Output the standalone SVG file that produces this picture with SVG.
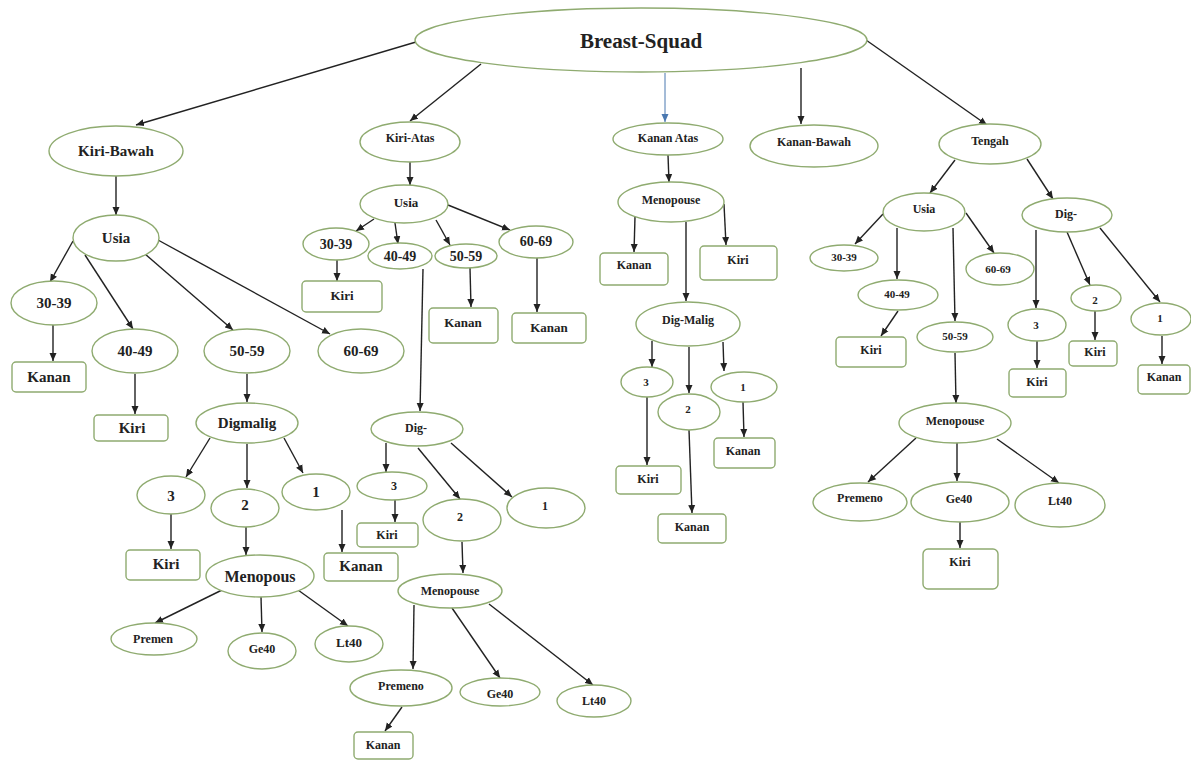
<svg xmlns="http://www.w3.org/2000/svg" width="1191" height="760" viewBox="0 0 1191 760">
<style>
.s{fill:#fff;stroke:#8fab70;stroke-width:1.4}
.t{font-family:'Liberation Serif','Times New Roman','DejaVu Serif',serif;font-weight:bold;fill:#222;text-anchor:middle;dominant-baseline:central}
.c line{stroke:#222;stroke-width:1.4;marker-end:url(#ah)}
</style>
<defs>
<marker id="ah" markerUnits="userSpaceOnUse" markerWidth="8" markerHeight="8" viewBox="0 0 8 8" refX="8" refY="4" orient="auto">
<path d="M0,0.5 L8,4 L0,7.5 Z" fill="#222"/>
</marker>
<marker id="ahb" markerUnits="userSpaceOnUse" markerWidth="8" markerHeight="8" viewBox="0 0 8 8" refX="8" refY="4" orient="auto">
<path d="M0,0.5 L8,4 L0,7.5 Z" fill="#4a78b0"/>
</marker>
</defs>
<rect width="1191" height="760" fill="#fff"/>

<g class="c" id="connectors">
<line x1="416" y1="42" x2="136" y2="125"/>
<line x1="481" y1="64" x2="410" y2="121"/>
<line x1="665" y1="73" x2="665" y2="122" style="stroke:#4a78b0;stroke-width:1;marker-end:url(#ahb)"/>
<line x1="801" y1="68" x2="801" y2="124"/>
<line x1="866" y1="40" x2="987" y2="125"/>
<line x1="116" y1="176" x2="116" y2="215"/>
<line x1="73" y1="241" x2="50" y2="282"/>
<line x1="85" y1="255" x2="133" y2="329"/>
<line x1="145" y1="254" x2="233" y2="330"/>
<line x1="158" y1="240" x2="330" y2="334"/>
<line x1="53" y1="325" x2="53" y2="361"/>
<line x1="135" y1="374" x2="135" y2="414"/>
<line x1="247" y1="374" x2="247" y2="402"/>
<line x1="210" y1="438" x2="186" y2="477"/>
<line x1="247" y1="444" x2="247" y2="488"/>
<line x1="284" y1="438" x2="303" y2="473"/>
<line x1="171" y1="514" x2="171" y2="549"/>
<line x1="246" y1="527" x2="246" y2="555"/>
<line x1="342" y1="510" x2="342" y2="552"/>
<line x1="222" y1="590" x2="155" y2="623"/>
<line x1="261" y1="597" x2="262" y2="632"/>
<line x1="298" y1="590" x2="348" y2="626"/>
<line x1="410" y1="162" x2="410" y2="185"/>
<line x1="374" y1="219" x2="356" y2="231"/>
<line x1="395" y1="223" x2="398" y2="244"/>
<line x1="436" y1="220" x2="450" y2="245"/>
<line x1="448" y1="205" x2="510" y2="230"/>
<line x1="337" y1="260" x2="337" y2="281"/>
<line x1="423" y1="269" x2="420" y2="411"/>
<line x1="470" y1="268" x2="471" y2="307"/>
<line x1="537" y1="258" x2="537" y2="312"/>
<line x1="386" y1="443" x2="386" y2="472"/>
<line x1="418" y1="448" x2="460" y2="499"/>
<line x1="451" y1="443" x2="512" y2="497"/>
<line x1="395" y1="500" x2="395" y2="522"/>
<line x1="462" y1="542" x2="463" y2="573"/>
<line x1="414" y1="605" x2="413" y2="669"/>
<line x1="452" y1="608" x2="500" y2="678"/>
<line x1="489" y1="604" x2="593" y2="685"/>
<line x1="402" y1="707" x2="385" y2="731"/>
<line x1="668" y1="155" x2="669" y2="182"/>
<line x1="635" y1="217" x2="634" y2="252"/>
<line x1="724" y1="204" x2="726" y2="245"/>
<line x1="686" y1="222" x2="686" y2="301"/>
<line x1="652" y1="341" x2="652" y2="367"/>
<line x1="689" y1="347" x2="689" y2="393"/>
<line x1="723" y1="342" x2="724" y2="371"/>
<line x1="647" y1="397" x2="647" y2="465"/>
<line x1="743" y1="402" x2="744" y2="437"/>
<line x1="689" y1="430" x2="692" y2="513"/>
<line x1="955" y1="160" x2="930" y2="193"/>
<line x1="1027" y1="159" x2="1053" y2="199"/>
<line x1="883" y1="214" x2="855" y2="244"/>
<line x1="897" y1="228" x2="897" y2="279"/>
<line x1="953" y1="228" x2="955" y2="321"/>
<line x1="966" y1="213" x2="994" y2="253"/>
<line x1="898" y1="311" x2="881" y2="336"/>
<line x1="955" y1="353" x2="956" y2="403"/>
<line x1="916" y1="438" x2="868" y2="482"/>
<line x1="957" y1="443" x2="957" y2="481"/>
<line x1="997" y1="439" x2="1059" y2="483"/>
<line x1="960" y1="522" x2="960" y2="548"/>
<line x1="1036" y1="230" x2="1036" y2="308"/>
<line x1="1067" y1="232" x2="1090" y2="285"/>
<line x1="1100" y1="228" x2="1160" y2="302"/>
<line x1="1037" y1="341" x2="1037" y2="368"/>
<line x1="1095" y1="311" x2="1095" y2="340"/>
<line x1="1162" y1="336" x2="1162" y2="364"/>
</g>

<g id="root"><ellipse class="s" cx="641" cy="40" rx="226" ry="32"/><text class="t" x="641" y="41" font-size="21">Breast-Squad</text></g>

<g id="kiri-bawah"><ellipse class="s" cx="116" cy="151" rx="67" ry="25"/><text class="t" x="116" y="151" font-size="15">Kiri-Bawah</text></g>
<g id="kb-usia"><ellipse class="s" cx="116" cy="238" rx="43" ry="23"/><text class="t" x="116" y="238" font-size="15">Usia</text></g>
<g id="kb-3039"><ellipse class="s" cx="54" cy="303" rx="43" ry="22"/><text class="t" x="54" y="303" font-size="15">30-39</text></g>
<g id="kb-4049"><ellipse class="s" cx="135" cy="351" rx="43" ry="22"/><text class="t" x="135" y="351" font-size="15">40-49</text></g>
<g id="kb-5059"><ellipse class="s" cx="247" cy="351" rx="43" ry="22"/><text class="t" x="247" y="351" font-size="15">50-59</text></g>
<g id="kb-6069"><ellipse class="s" cx="361" cy="351" rx="43" ry="22"/><text class="t" x="361" y="351" font-size="15">60-69</text></g>
<g id="kb-kanan1"><rect class="s" x="12" y="362" width="74" height="30" rx="4"/><text class="t" x="49" y="377" font-size="15">Kanan</text></g>
<g id="kb-kiri1"><rect class="s" x="94" y="415" width="74" height="26" rx="4"/><text class="t" x="132" y="428" font-size="15">Kiri</text></g>
<g id="kb-digmalig"><ellipse class="s" cx="247" cy="423" rx="51" ry="20"/><text class="t" x="247" y="423" font-size="15">Digmalig</text></g>
<g id="kb-d3"><ellipse class="s" cx="171" cy="495" rx="34" ry="19"/><text class="t" x="171" y="496" font-size="15">3</text></g>
<g id="kb-d2"><ellipse class="s" cx="245" cy="508" rx="34" ry="19"/><text class="t" x="245" y="505" font-size="15">2</text></g>
<g id="kb-d1"><ellipse class="s" cx="316" cy="492" rx="34" ry="18"/><text class="t" x="316" y="492" font-size="15">1</text></g>
<g id="kb-kiri2"><rect class="s" x="126" y="550" width="74" height="30" rx="4"/><text class="t" x="166" y="564" font-size="15">Kiri</text></g>
<g id="kb-menopous"><ellipse class="s" cx="260" cy="576" rx="54" ry="21"/><text class="t" x="260" y="576" font-size="16">Menopous</text></g>
<g id="kb-kanan2"><rect class="s" x="324" y="553" width="74" height="28" rx="4"/><text class="t" x="361" y="566" font-size="15">Kanan</text></g>
<g id="kb-premen"><ellipse class="s" cx="154" cy="639" rx="43" ry="16"/><text class="t" x="153" y="639" font-size="12">Premen</text></g>
<g id="kb-ge40"><ellipse class="s" cx="262" cy="651" rx="34" ry="18"/><text class="t" x="262" y="649" font-size="12">Ge40</text></g>
<g id="kb-lt40"><ellipse class="s" cx="349" cy="644" rx="34" ry="18"/><text class="t" x="349" y="642" font-size="13">Lt40</text></g>

<g id="kiri-atas"><ellipse class="s" cx="410" cy="142" rx="50" ry="20"/><text class="t" x="410" y="138" font-size="12">Kiri-Atas</text></g>
<g id="ka-usia"><ellipse class="s" cx="404" cy="204" rx="44" ry="19"/><text class="t" x="406" y="202" font-size="13">Usia</text></g>
<g id="ka-3039"><ellipse class="s" cx="336" cy="244" rx="33" ry="16"/><text class="t" x="336" y="244" font-size="14">30-39</text></g>
<g id="ka-4049"><ellipse class="s" cx="400" cy="256" rx="32" ry="13"/><text class="t" x="400" y="256" font-size="14">40-49</text></g>
<g id="ka-5059"><ellipse class="s" cx="466" cy="256" rx="31" ry="12"/><text class="t" x="466" y="256" font-size="14">50-59</text></g>
<g id="ka-6069"><ellipse class="s" cx="536" cy="242" rx="37" ry="16"/><text class="t" x="536" y="241" font-size="14">60-69</text></g>
<g id="ka-kiri"><rect class="s" x="302" y="281" width="80" height="31" rx="4"/><text class="t" x="342" y="295" font-size="13">Kiri</text></g>
<g id="ka-kanan1"><rect class="s" x="429" y="308" width="69" height="35" rx="4"/><text class="t" x="463" y="322" font-size="13">Kanan</text></g>
<g id="ka-kanan2"><rect class="s" x="512" y="313" width="74" height="30" rx="4"/><text class="t" x="549" y="327" font-size="13">Kanan</text></g>
<g id="ka-dig"><ellipse class="s" cx="417" cy="429" rx="46" ry="17"/><text class="t" x="416" y="428" font-size="12">Dig-</text></g>
<g id="ka-d3"><ellipse class="s" cx="392" cy="486" rx="35" ry="14"/><text class="t" x="394" y="486" font-size="12">3</text></g>
<g id="ka-d2"><ellipse class="s" cx="462" cy="520" rx="39" ry="21"/><text class="t" x="460" y="517" font-size="12">2</text></g>
<g id="ka-d1"><ellipse class="s" cx="546" cy="508" rx="39" ry="20"/><text class="t" x="545" y="506" font-size="12">1</text></g>
<g id="ka-kiri2"><rect class="s" x="357" y="523" width="61" height="24" rx="4"/><text class="t" x="387" y="535" font-size="12">Kiri</text></g>
<g id="ka-menopouse"><ellipse class="s" cx="450" cy="591" rx="52" ry="17"/><text class="t" x="450" y="591" font-size="12">Menopouse</text></g>
<g id="ka-premeno"><ellipse class="s" cx="401" cy="688" rx="51" ry="18"/><text class="t" x="401" y="686" font-size="12">Premeno</text></g>
<g id="ka-ge40"><ellipse class="s" cx="500" cy="692" rx="40" ry="14"/><text class="t" x="500" y="694" font-size="12">Ge40</text></g>
<g id="ka-lt40"><ellipse class="s" cx="594" cy="701" rx="37" ry="16"/><text class="t" x="594" y="701" font-size="12">Lt40</text></g>
<g id="ka-kanan3"><rect class="s" x="354" y="732" width="59" height="27" rx="4"/><text class="t" x="383" y="745" font-size="12">Kanan</text></g>

<g id="kanan-atas"><ellipse class="s" cx="668" cy="139" rx="55" ry="16"/><text class="t" x="668" y="138" font-size="12">Kanan Atas</text></g>
<g id="kna-menopouse"><ellipse class="s" cx="671" cy="202" rx="53" ry="20"/><text class="t" x="671" y="200" font-size="12">Menopouse</text></g>
<g id="kna-kanan"><rect class="s" x="600" y="253" width="68" height="32" rx="4"/><text class="t" x="634" y="265" font-size="12">Kanan</text></g>
<g id="kna-kiri"><rect class="s" x="700" y="246" width="77" height="34" rx="4"/><text class="t" x="738" y="260" font-size="12">Kiri</text></g>
<g id="kna-digmalig"><ellipse class="s" cx="688" cy="324" rx="52" ry="22"/><text class="t" x="688" y="320" font-size="12">Dig-Malig</text></g>
<g id="kna-d3"><ellipse class="s" cx="647" cy="382" rx="26" ry="15"/><text class="t" x="646" y="382" font-size="11">3</text></g>
<g id="kna-d2"><ellipse class="s" cx="689" cy="412" rx="31" ry="18"/><text class="t" x="688" y="409" font-size="11">2</text></g>
<g id="kna-d1"><ellipse class="s" cx="744" cy="387" rx="33" ry="15"/><text class="t" x="743" y="387" font-size="11">1</text></g>
<g id="kna-kiri2"><rect class="s" x="616" y="466" width="65" height="28" rx="4"/><text class="t" x="648" y="479" font-size="12">Kiri</text></g>
<g id="kna-kanan2"><rect class="s" x="714" y="438" width="61" height="30" rx="4"/><text class="t" x="743" y="451" font-size="12">Kanan</text></g>
<g id="kna-kanan3"><rect class="s" x="658" y="514" width="68" height="29" rx="4"/><text class="t" x="692" y="527" font-size="12">Kanan</text></g>

<g id="kanan-bawah"><ellipse class="s" cx="814" cy="146" rx="64" ry="21"/><text class="t" x="814" y="142" font-size="12">Kanan-Bawah</text></g>

<g id="tengah"><ellipse class="s" cx="990" cy="144" rx="51" ry="20"/><text class="t" x="990" y="141" font-size="12">Tengah</text></g>
<g id="tg-usia"><ellipse class="s" cx="924" cy="212" rx="41" ry="19"/><text class="t" x="924" y="209" font-size="12">Usia</text></g>
<g id="tg-3039"><ellipse class="s" cx="844" cy="258" rx="34" ry="13"/><text class="t" x="844" y="257" font-size="11">30-39</text></g>
<g id="tg-4049"><ellipse class="s" cx="898" cy="295" rx="40" ry="15"/><text class="t" x="897" y="294" font-size="11">40-49</text></g>
<g id="tg-5059"><ellipse class="s" cx="955" cy="337" rx="38" ry="15"/><text class="t" x="955" y="336" font-size="11">50-59</text></g>
<g id="tg-6069"><ellipse class="s" cx="1000" cy="269" rx="34" ry="16"/><text class="t" x="998" y="269" font-size="11">60-69</text></g>
<g id="tg-kiri1"><rect class="s" x="836" y="337" width="70" height="30" rx="4"/><text class="t" x="871" y="350" font-size="12">Kiri</text></g>
<g id="tg-menopouse"><ellipse class="s" cx="955" cy="423" rx="56" ry="20"/><text class="t" x="955" y="421" font-size="12">Menopouse</text></g>
<g id="tg-premeno"><ellipse class="s" cx="860" cy="502" rx="47" ry="19"/><text class="t" x="860" y="498" font-size="12">Premeno</text></g>
<g id="tg-ge40"><ellipse class="s" cx="960" cy="502" rx="49" ry="20"/><text class="t" x="959" y="499" font-size="12">Ge40</text></g>
<g id="tg-lt40"><ellipse class="s" cx="1060" cy="505" rx="45" ry="22"/><text class="t" x="1060" y="501" font-size="12">Lt40</text></g>
<g id="tg-kiri2"><rect class="s" x="923" y="549" width="75" height="40" rx="5"/><text class="t" x="960" y="562" font-size="12">Kiri</text></g>
<g id="tg-dig"><ellipse class="s" cx="1067" cy="215" rx="45" ry="17"/><text class="t" x="1066" y="214" font-size="12">Dig-</text></g>
<g id="tg-d3"><ellipse class="s" cx="1037" cy="325" rx="29" ry="16"/><text class="t" x="1036" y="325" font-size="11">3</text></g>
<g id="tg-d2"><ellipse class="s" cx="1096" cy="298" rx="25" ry="13"/><text class="t" x="1095" y="300" font-size="11">2</text></g>
<g id="tg-d1"><ellipse class="s" cx="1161" cy="319" rx="30" ry="16"/><text class="t" x="1160" y="318" font-size="11">1</text></g>
<g id="tg-kiri3"><rect class="s" x="1009" y="369" width="57" height="28" rx="4"/><text class="t" x="1037" y="382" font-size="12">Kiri</text></g>
<g id="tg-kiri4"><rect class="s" x="1069" y="341" width="48" height="25" rx="4"/><text class="t" x="1095" y="352" font-size="12">Kiri</text></g>
<g id="tg-kanan"><rect class="s" x="1138" y="365" width="52" height="29" rx="4"/><text class="t" x="1164" y="377" font-size="12">Kanan</text></g>
</svg>
